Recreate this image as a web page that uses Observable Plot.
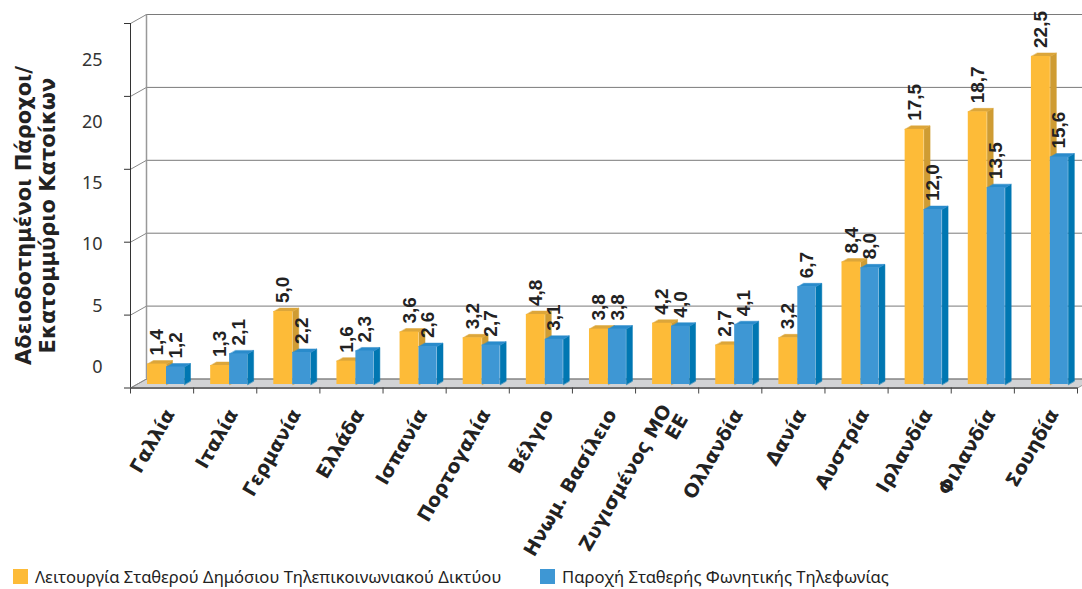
<!DOCTYPE html>
<html><head><meta charset="utf-8">
<script src="https://cdn.jsdelivr.net/npm/d3@7"></script>
<script src="https://cdn.jsdelivr.net/npm/@observablehq/plot@0.6"></script>
<style>
body{margin:0;background:#fff;}
#wrap{position:relative;width:1082px;height:589px;overflow:hidden;}
#main,#yaxis{position:absolute;left:0;top:0;}
#legend{position:absolute;left:0;top:566px;width:1082px;height:22px;font-family:"Noto Sans",sans-serif;font-size:16.6px;color:#222;}
.item{position:absolute;top:0;display:flex;align-items:center;height:21px;}
.sw{width:15px;height:15px;margin-right:7px;}
</style></head><body>
<div id="wrap"><div id="main"></div><div id="yaxis"></div><div id="legend"></div></div>
<script>
const categories = ["Γαλλία","Ιταλία","Γερμανία","Ελλάδα","Ισπανία","Πορτογαλία","Βέλγιο","Ηνωμ. Βασίλειο","Ζυγισμένος ΜΟ\nΕΕ","Ολλανδία","Δανία","Αυστρία","Ιρλανδία","Φιλανδία","Σουηδία"];
const networkValues = [1.4,1.3,5.0,1.6,3.6,3.2,4.8,3.8,4.2,2.7,3.2,8.4,17.5,18.7,22.5];
const voiceValues = [1.2,2.1,2.2,2.3,2.6,2.7,3.1,3.8,4.0,4.1,6.7,8.0,12.0,13.5,15.6];
const yTicks = [0,5,10,15,20,25];
const seriesNames = ["Λειτουργία Σταθερού Δημόσιου Τηλεπικοινωνιακού Δικτύου","Παροχή Σταθερής Φωνητικής Τηλεφωνίας"];
const yTitle = "Αδειοδοτημένοι Πάροχοι/\nΕκατομμύριο Κατοίκων";

const W = 1082, H = 560, mL = 130, mR = 5, mT = 23, mB = 172.5;
const pxX = (W - mL - mR) / categories.length;   // px per category
const pxY = (H - mT - mB) / 25;                  // px per unit
const wallDX = 16 / pxX, wallDY = 9 / pxY;       // 3D wall depth in data units
const barDX = 6 / pxX, barDY = 3.5 / pxY;        // 3D bar depth in data units
const Y0 = [0.27, 0.57], B0 = [0.57, 0.855];
const col = {
  yFront: "#FDBB38", yTop: "#DCA63A", ySide: "#CF9C33",
  bFront: "#3E97D4", bTop: "#2A8BCB", bSide: "#0077B2"
};
const fmt = v => v.toFixed(1).replace(".", ",");

function faces(values, [a0, b0]) {
  const top = [], side = [];
  values.forEach((v, i) => {
    const a = i + a0, b = i + b0;
    top.push({id:i,x:a,y:v},{id:i,x:b,y:v},{id:i,x:b+barDX,y:v+barDY},{id:i,x:a+barDX,y:v+barDY});
    side.push({id:i,x:b,y:0},{id:i,x:b,y:v},{id:i,x:b+barDX,y:v+barDY},{id:i,x:b+barDX,y:barDY});
  });
  return {top, side};
}
const yf = faces(networkValues, Y0), bf = faces(voiceValues, B0);
const n = categories.length;
const floor = [{x:0,y:0},{x:wallDX,y:wallDY},{x:n+wallDX,y:wallDY},{x:n,y:0}];

function barMarks(values, rng, f, front, top, side) {
  return [
    Plot.line(f.side, {x:"x", y:"y", z:"id", fill: side, stroke: side, strokeWidth: 0.5, curve: "linear-closed", dy: -3.5}),
    Plot.line(f.top, {x:"x", y:"y", z:"id", fill: top, stroke: top, strokeWidth: 0.5, curve: "linear-closed", dy: -3.5}),
    Plot.rect(values, {x1: (d,i) => i + rng[0], x2: (d,i) => i + rng[1], y1: 0, y2: d => d, fill: front, dy: -3.5}),
  ];
}
function labelMarks(values, rng) {
  return Plot.text(values, {x: (d,i) => i + (rng[0]+rng[1])/2, y: d => d, text: fmt, rotate: -90,
    textAnchor: "start", lineAnchor: "middle", dy: -12, fontSize: 19, fontWeight: "bold",
    fill: "#222", fontFamily: "Liberation Sans, Arial, sans-serif"});
}

const main = Plot.plot({
  width: W, height: H, marginLeft: mL, marginRight: mR, marginTop: mT, marginBottom: mB,
  x: {domain: [0, n]},
  y: {domain: [0, 25]},
  style: {background: "transparent", fontFamily: "Noto Sans, sans-serif"},
  marks: [
    Plot.line(floor, {x:"x", y:"y", fill: "#D2D3D5", stroke: "#9a9a9a", strokeWidth: 1, curve: "linear-closed"}),
    Plot.ruleY(yTicks, {y: d => d + wallDY, x1: wallDX, x2: n + wallDX, stroke: "#7a7a7a", strokeWidth: 1}),
    Plot.ruleX([wallDX], {y1: wallDY, y2: 25 + wallDY, stroke: "#999", strokeWidth: 1.5}),
    Plot.link(yTicks, {x1: 0, y1: d => d, x2: wallDX, y2: d => d + wallDY, stroke: "#888", strokeWidth: 1}),
    Plot.ruleX([0], {y1: 0, y2: 25, stroke: "#333", strokeWidth: 1}),
    Plot.axisY({ticks: yTicks, tickSize: 6, tickFormat: () => "", label: null, stroke: "#333"}),
    ...barMarks(networkValues, Y0, yf, col.yFront, col.yTop, col.ySide),
    ...barMarks(voiceValues, B0, bf, col.bFront, col.bTop, col.bSide),
    labelMarks(networkValues, Y0),
    labelMarks(voiceValues, B0),
    Plot.ruleY([0], {x1: 0, x2: n, stroke: "#555", strokeWidth: 1.5}),
    Plot.axisX({ticks: d3.range(n + 1), tickSize: 6, tickFormat: () => "", label: null, stroke: "#444"}),
    Plot.text(categories, {x: (d,i) => i + 0.5, y: 0, text: d => d, rotate: -60, textAnchor: "end",
      lineAnchor: "middle", dx: 8, dy: 23, fontSize: 19, fontWeight: "bold", fill: "#222",
      fontFamily: "DejaVu Sans, sans-serif"})
  ]
});
document.getElementById("main").append(main);

const yaxis = Plot.plot({
  width: 130, height: H, marginLeft: 105, marginRight: 0, marginTop: 60, marginBottom: H - 367,
  y: {domain: [0, 25]},
  x: {domain: [0, 1], axis: null},
  style: {background: "transparent", fontFamily: "Noto Sans, sans-serif"},
  marks: [
    Plot.axisY({ticks: yTicks, tickSize: 0, tickPadding: 3, fontSize: 18, fill: "#333", label: null, tickFormat: d => String(d)}),
    Plot.text([yTitle], {frameAnchor: "left", dx: -70, dy: 1.5, rotate: -90, textAnchor: "middle",
      lineAnchor: "middle", lineHeight: 1.15, fontSize: 21, fontWeight: "bold", fill: "#222",
      fontFamily: "DejaVu Sans, sans-serif"})
  ]
});
document.getElementById("yaxis").append(yaxis);

const legend = document.getElementById("legend");
const lx = [13, 540], lc = [col.yFront, col.bFront];
seriesNames.forEach((s, i) => {
  const it = document.createElement("div");
  it.className = "item"; it.style.left = lx[i] + "px";
  it.innerHTML = `<div class="sw" style="background:${lc[i]}"></div><span>${s}</span>`;
  legend.append(it);
});
</script>
</body></html>
